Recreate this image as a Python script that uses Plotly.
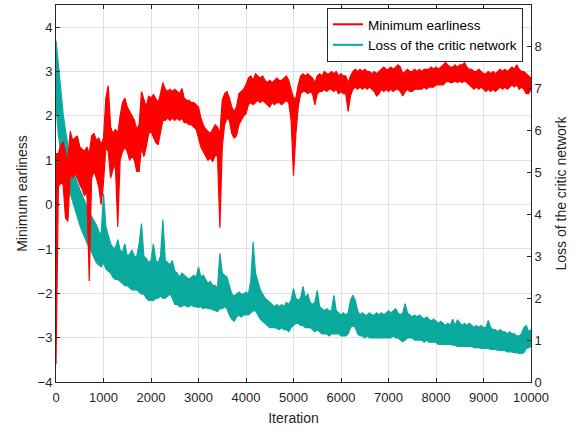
import plotly.graph_objects as go

# Iterations sampled every 50 steps (0 .. 10000)
iters = list(range(0, 10001, 50))

# Minimum earliness (left axis): lower / upper envelope of the noisy curve
red_lo = [
    -3.6, 0.4, 0.5, 0.45, -0.3, -0.38, 0.7, 0.6, 0.7, 0.6,
    0.45, 0.35, 0.2, 0.3, -1.72, 0.6, 0.75, 0.6, 0.4, 0.0,
    0.5, 1.3, 1.2, 0.6, 0.8, 0.9, -0.5, 1.0, 1.2, 1.3,
    1.2, 1.0, 1.1, 1.0, 0.75, 0.75, 1.3, 1.08, 1.3, 1.6,
    1.65, 1.5, 1.4, 1.35, 1.6, 1.9, 1.9, 1.95, 1.9, 1.95,
    1.9, 1.95, 1.9, 1.95, 1.85, 1.85, 1.8, 1.8, 1.75, 1.7,
    1.5, 1.3, 1.2, 1.1, 1.0, 1.05, 0.97, 1.1, 1.1, -0.52,
    1.3, 1.8, 1.95, 1.9, 1.6, 1.5, 1.55, 1.8, 1.9, 2.0,
    2.05, 2.25, 2.3, 2.25, 2.3, 2.35, 2.3, 2.35, 2.3, 2.25,
    2.2, 2.3, 2.25, 2.3, 2.3, 2.25, 2.3, 2.35, 2.3, 1.9,
    0.65, 1.6, 2.2, 2.5, 2.55, 2.55, 2.5, 2.55, 2.5, 2.25,
    2.5, 2.55, 2.55, 2.6, 2.55, 2.6, 2.6, 2.55, 2.6, 2.5,
    2.55, 2.5, 2.5, 2.1, 2.45, 2.6, 2.65, 2.6, 2.65, 2.6,
    2.65, 2.6, 2.65, 2.6, 2.55, 2.45, 2.5, 2.6, 2.55, 2.6,
    2.55, 2.6, 2.55, 2.6, 2.6, 2.55, 2.45, 2.55, 2.6, 2.55,
    2.55, 2.6, 2.6, 2.6, 2.6, 2.65, 2.6, 2.65, 2.65, 2.65,
    2.7, 2.7, 2.7, 2.7, 2.75, 2.8, 2.75, 2.75, 2.8, 2.75,
    2.8, 2.75, 2.8, 2.75, 2.7, 2.65, 2.6, 2.65, 2.6, 2.65,
    2.6, 2.55, 2.6, 2.55, 2.6, 2.55, 2.6, 2.65, 2.6, 2.65,
    2.6, 2.65, 2.7, 2.65, 2.7, 2.6, 2.65, 2.6, 2.5, 2.5,
    2.6,
]
red_hi = [
    1.15, 1.15, 1.35, 1.4, 1.2, 1.0, 1.65, 1.45, 1.5, 1.55,
    1.3, 1.25, 1.2, 1.3, 1.15, 1.55, 1.6, 1.45, 1.5, 1.35,
    1.5, 2.4, 2.68, 1.75, 1.6, 1.7, 1.6, 2.0, 2.3, 2.4,
    2.2, 2.1, 2.0, 1.9, 1.7, 1.8, 2.55, 2.35, 2.2, 2.45,
    2.4, 2.48, 2.4, 2.3, 2.5, 2.75, 2.6, 2.55, 2.6, 2.55,
    2.6, 2.55, 2.5, 2.62, 2.4, 2.35, 2.35, 2.3, 2.3, 2.25,
    2.2, 1.95, 1.8, 1.7, 1.65, 1.6, 1.7, 1.8, 1.75, 1.6,
    2.35, 2.5, 2.55, 2.4, 2.2, 2.1, 2.2, 2.5, 2.55, 2.6,
    2.7, 2.85, 2.9, 2.8, 2.95, 2.9, 2.85, 2.9, 2.8, 2.75,
    2.8, 2.75, 2.8, 2.85, 2.8, 2.8, 2.85, 2.9, 2.8, 2.6,
    2.4, 2.4, 2.7, 2.9, 2.95, 2.9, 2.95, 2.9, 2.85, 2.75,
    2.9, 2.95, 2.9, 3.0, 2.95, 2.95, 3.0, 2.95, 3.0, 2.9,
    2.95, 2.9, 2.9, 2.75, 2.9, 3.0, 3.05, 3.0, 3.05, 3.0,
    3.05, 3.0, 3.0, 2.95, 3.0, 2.95, 3.0, 3.05, 3.1, 3.05,
    3.05, 3.1, 3.05, 3.1, 3.15, 3.1, 2.95, 3.0, 3.05, 3.0,
    3.0, 3.05, 3.0, 3.05, 3.0, 3.05, 3.05, 3.05, 3.1, 3.05,
    3.1, 3.05, 3.1, 3.15, 3.2, 3.15, 3.1, 3.1, 3.15, 3.1,
    3.15, 3.15, 3.2, 3.1, 3.05, 3.05, 3.0, 3.0, 3.05, 3.0,
    2.95, 2.95, 3.0, 2.95, 3.0, 2.95, 3.0, 3.05, 3.0, 3.05,
    3.0, 3.05, 3.1, 3.05, 3.15, 3.05, 3.0, 3.0, 2.95, 2.9,
    2.85,
]

# Loss of the critic network (right axis): lower / upper envelope
teal_lo = [
    6.6, 5.9, 5.5, 5.25, 4.9, 4.65, 4.5, 4.3, 4.1, 3.95,
    3.75, 3.6, 3.45, 3.35, 3.2, 3.1, 2.95, 2.85, 2.8, 2.75,
    2.85, 2.7, 2.65, 2.6, 2.5, 2.45, 2.45, 2.4, 2.35, 2.3,
    2.3, 2.25, 2.2, 2.2, 2.2, 2.15, 2.1, 2.1, 2.0, 1.95,
    1.95, 1.95, 2.0, 2.0, 2.05, 2.0, 2.0, 2.05, 2.1, 2.0,
    1.85, 1.85, 1.8, 1.8, 1.85, 1.8, 1.8, 1.85, 1.8, 1.8,
    1.78, 1.8, 1.75, 1.78, 1.75, 1.75, 1.72, 1.7, 1.68, 1.75,
    1.75, 1.8, 1.75, 1.6, 1.5, 1.45, 1.55, 1.6, 1.55, 1.6,
    1.6, 1.6, 1.65, 1.7, 1.7, 1.6, 1.5, 1.45, 1.4, 1.35,
    1.3, 1.3, 1.3, 1.28, 1.25, 1.3, 1.25, 1.25, 1.2, 1.3,
    1.35, 1.4, 1.4, 1.35, 1.35, 1.3, 1.3, 1.3, 1.25, 1.2,
    1.25, 1.2, 1.15, 1.15, 1.15, 1.1, 1.15, 1.15, 1.15, 1.15,
    1.1, 1.1, 1.1, 1.15, 1.3, 1.35, 1.3, 1.15, 1.1, 1.1,
    1.05, 1.1, 1.05, 1.05, 1.05, 1.05, 1.05, 1.05, 1.05, 1.05,
    1.05, 1.05, 1.1, 1.05, 1.05, 1.0, 0.96, 1.0, 1.05, 1.05,
    1.05, 1.0, 1.0, 1.0, 1.0, 0.95, 1.0, 0.95, 0.95, 0.95,
    0.95, 0.9, 0.9, 0.9, 0.9, 0.9, 0.9, 0.88, 0.88, 0.85,
    0.85, 0.85, 0.85, 0.85, 0.85, 0.85, 0.82, 0.82, 0.82, 0.8,
    0.8, 0.8, 0.8, 0.78, 0.78, 0.78, 0.76, 0.76, 0.75, 0.75,
    0.72, 0.72, 0.72, 0.7, 0.7, 0.68, 0.68, 0.7, 0.8, 0.82,
    0.85,
]
teal_hi = [
    8.15, 7.6, 6.9, 6.4, 6.0, 5.6, 5.3, 5.1, 4.9, 4.75,
    4.6, 4.45, 4.3, 4.2, 4.05, 3.95, 3.85, 3.75, 3.6, 3.5,
    4.5, 3.7, 3.5, 3.3, 3.2, 3.2, 3.4, 3.15, 3.1, 3.3,
    3.0, 3.05, 3.15, 3.0, 3.0, 3.3, 3.78, 3.0, 2.95, 2.85,
    2.9, 3.3, 2.9, 2.85, 3.0, 3.88, 2.9, 2.85, 2.8, 2.9,
    2.65, 2.6, 2.5, 2.6, 2.55, 2.5, 2.45, 2.5, 2.55, 2.5,
    2.75, 2.5, 2.55, 2.45, 2.35, 2.4, 2.3, 2.3, 2.25, 3.07,
    2.6, 2.55, 2.5, 2.3, 2.1, 2.05, 2.1, 2.15, 2.1, 2.1,
    2.15, 2.1, 2.4, 3.34, 2.6, 2.4, 2.2, 2.1, 2.0, 1.95,
    1.9, 1.85, 1.8, 1.85, 1.8, 1.85, 1.8, 1.9, 1.85, 1.95,
    2.23, 2.0, 1.95, 2.0, 2.28, 2.0, 2.1, 1.9, 1.85, 1.9,
    2.19, 1.8, 1.75, 1.7, 1.75, 1.7, 1.7, 2.07, 1.7, 1.65,
    1.6, 1.65, 1.6, 1.65, 1.95, 2.07, 1.95, 1.7, 1.6, 1.65,
    1.6, 1.6, 1.65, 1.6, 1.6, 1.65, 1.6, 1.65, 1.6, 1.65,
    1.7, 1.65, 1.7, 1.75, 1.65, 1.6, 1.65, 1.87, 1.65, 1.6,
    1.55, 1.6, 1.55, 1.6, 1.55, 1.5, 1.55, 1.5, 1.45, 1.5,
    1.45, 1.4, 1.45, 1.4, 1.35, 1.4, 1.35, 1.5, 1.35, 1.48,
    1.4, 1.35, 1.4, 1.35, 1.4, 1.35, 1.3, 1.35, 1.3, 1.35,
    1.3, 1.3, 1.47, 1.3, 1.25, 1.25, 1.2, 1.25, 1.2, 1.2,
    1.15, 1.2, 1.15, 1.15, 1.1, 1.1, 1.15, 1.3, 1.35, 1.2,
    1.25,
]

left_ticks = [-4, -3, -2, -1, 0, 1, 2, 3, 4]
right_ticks = [0, 1, 2, 3, 4, 5, 6, 7, 8, 9]
x_ticks = list(range(0, 10001, 1000))

RED = "#ff0000"
TEAL = "#0aa99d"
FONT = "Liberation Sans, Arial, sans-serif"
AXC = "#262626"
GRID = "#e0e0e0"

fig = go.Figure()

# legend-only entries
fig.add_trace(go.Scatter(x=[None], y=[None], mode="lines", name="Minimum earliness",
                         line=dict(color=RED, width=2), yaxis="y2"))
fig.add_trace(go.Scatter(x=[None], y=[None], mode="lines", name="Loss of the critic network",
                         line=dict(color=TEAL, width=2), yaxis="y"))

# teal band (right axis, base y)
fig.add_trace(go.Scatter(x=iters, y=teal_lo, mode="lines", yaxis="y",
                         line=dict(color=TEAL, width=1.2), showlegend=False, hoverinfo="skip"))
fig.add_trace(go.Scatter(x=iters, y=teal_hi, mode="lines", yaxis="y", fill="tonexty",
                         fillcolor=TEAL, line=dict(color=TEAL, width=1.2),
                         showlegend=False, hoverinfo="skip"))

# red band (left axis, overlaying -> drawn on top)
fig.add_trace(go.Scatter(x=iters, y=red_lo, mode="lines", yaxis="y2",
                         line=dict(color=RED, width=1.2), showlegend=False, hoverinfo="skip"))
fig.add_trace(go.Scatter(x=iters, y=red_hi, mode="lines", yaxis="y2", fill="tonexty",
                         fillcolor=RED, line=dict(color=RED, width=1.2),
                         showlegend=False, hoverinfo="skip"))

fig.update_layout(
    width=585, height=432,
    margin=dict(l=56, r=54, t=5, b=50),
    paper_bgcolor="white", plot_bgcolor="white",
    font=dict(family=FONT, size=13, color=AXC),
    showlegend=True,
    legend=dict(x=0.983, y=0.992, xanchor="right", yanchor="top",
                bgcolor="white", bordercolor="#262626", borderwidth=1,
                traceorder="normal",
                font=dict(size=13.5, color="#000000"), tracegroupgap=0),
    xaxis=dict(range=[0, 10000], tickvals=x_ticks, ticktext=[str(t) for t in x_ticks],
               automargin=False, ticklabelstandoff=3,
               showgrid=True, gridcolor=GRID, gridwidth=1, zeroline=False,
               showline=True, linecolor=AXC, linewidth=1, mirror="ticks",
               ticks="inside", ticklen=4, tickcolor=AXC,
               title=dict(text="Iteration", font=dict(size=14), standoff=9)),
    yaxis=dict(range=[0, 9], tickvals=right_ticks, side="right",
               automargin=False,
               showgrid=False, zeroline=False,
               showline=True, linecolor=AXC, linewidth=1,
               ticks="inside", ticklen=4, tickcolor=AXC,
               title=dict(text="Loss of the critic network", font=dict(size=14), standoff=15)),
    yaxis2=dict(range=[-4, 4.5], tickvals=left_ticks, side="left", overlaying="y",
                automargin=False,
                showgrid=True, gridcolor=GRID, gridwidth=1, zeroline=False,
                showline=True, linecolor=AXC, linewidth=1,
                ticks="inside", ticklen=4, tickcolor=AXC,
                title=dict(text="Minimum earliness", font=dict(size=14), standoff=6)),
)

fig.write_html("out.html",
               config={"displayModeBar": False},
               post_script="document.body.style.margin='0';document.body.style.padding='0';")
